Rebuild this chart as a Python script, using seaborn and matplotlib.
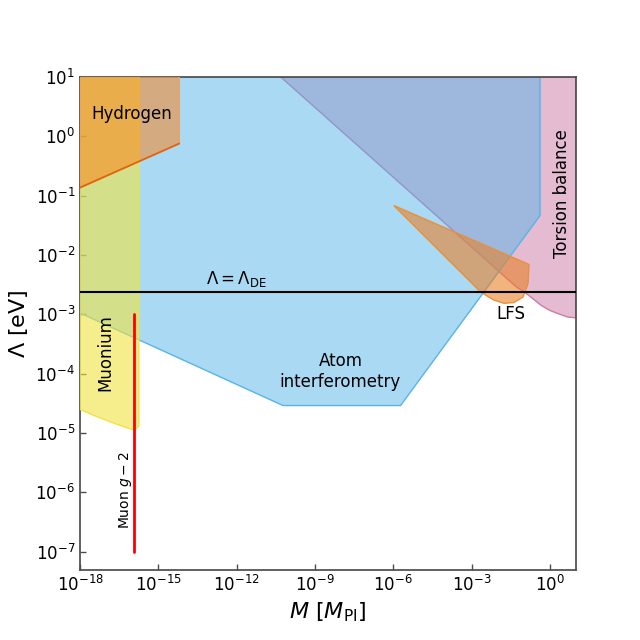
import numpy as np
import pandas as pd
import seaborn as sns
from matplotlib import pyplot as plt
from matplotlib.colors import to_rgb

# region boundaries, M in M_Pl and Lambda in eV
atom_M = [1e-18, 6e-11, 1.9e-6, 0.42, 0.42, 1e-18]
atom_L = [1.05e-3, 2.9e-5, 2.9e-5, 0.046, 10, 10]

torsion_M = [4.8e-11, 3.9e-4, 0.05, 0.104, 0.219, 0.457, 0.955, 2.0, 4.8, 10, 10]
torsion_L = [10, 0.0197, 2.92e-3, 2.37e-3, 1.84e-3, 1.42e-3, 1.17e-3, 1.03e-3, 9.0e-4, 8.7e-4, 10]

muonium_M = [1e-18, 3.2e-18, 1.4e-17, 9.5e-17, 1.4e-16, 1.8e-16, 1.8e-16, 1e-18]
muonium_L = [2.5e-5, 2.0e-5, 1.55e-5, 1.15e-5, 1.17e-5, 1.32e-5, 10, 10]

hydrogen_M = [1e-18, 6.3e-15, 6.3e-15, 1e-18]
hydrogen_L = [0.136, 0.75, 10, 10]

lfs_M = [1.05e-6, 0.158, 0.145, 0.093, 0.042, 0.0174, 7.1e-3, 2.3e-3]
lfs_L = [0.0679, 6.9e-3, 3.3e-3, 1.95e-3, 1.58e-3, 1.53e-3, 1.74e-3, 2.34e-3]

g2_M = [1.17e-16, 1.17e-16]
g2_L = [1e-7, 1e-3]

lambda_DE = 2.4e-3

xticks = [1e-18, 1e-15, 1e-12, 1e-9, 1e-6, 1e-3, 1e0]
yticks = [1e-7, 1e-6, 1e-5, 1e-4, 1e-3, 1e-2, 1e-1, 1e0, 1e1]

sns.set_theme(style="ticks", rc={
    "xtick.direction": "in", "ytick.direction": "in",
    "xtick.major.size": 4, "ytick.major.size": 4,
    "axes.edgecolor": "0.3", "axes.linewidth": 1.25,
    "text.color": "black", "axes.labelcolor": "black",
})
plt.rcParams['font.family'] = ['DejaVu Sans']

fig, ax = plt.subplots(figsize=(6.4, 6.4), dpi=100)
fig.subplots_adjust(left=0.125, right=0.9, bottom=0.11, top=0.88)
ax.set_xscale('log')
ax.set_yscale('log')

def region(M, L, color, alpha, z, ec=None):
    # translucent face, opaque edge
    ax.fill(M, L, facecolor=(*to_rgb(color), alpha), edgecolor=ec or color, lw=1.0, zorder=z)

region(torsion_M, torsion_L, "#CC79A7", 0.5, 1)
region(atom_M, atom_L, "#56B4E9", 0.5, 2)
region(muonium_M, muonium_L, "#F0E442", 0.6, 3)
region(hydrogen_M, hydrogen_L, "#FF7F0E", 0.5, 4, ec="#F5A05A")
region(lfs_M, lfs_L, "#E8822A", 0.6, 5, ec="#E8903A")

# hydrogen lower boundary
hyd = pd.DataFrame({"M": hydrogen_M[:2], "L": hydrogen_L[:2]})
sns.lineplot(data=hyd, x="M", y="L", color="#E2630C", lw=1.3, ax=ax, zorder=6,
             estimator=None, sort=False)

g2 = pd.DataFrame({"M": g2_M, "L": g2_L})
sns.lineplot(data=g2, x="M", y="L", color="red", lw=2, ax=ax, zorder=7,
             estimator=None, sort=False)

ax.axhline(lambda_DE, color="black", lw=1.5, zorder=8)

ax.text(1e-16, 2.4, "Hydrogen", fontsize=12, ha="center", va="center", zorder=9)
ax.text(9.1e-18, 2.3e-4, "Muonium", fontsize=12, rotation=90, ha="center", va="center", zorder=9)
ax.text(5.4e-17, 1.1e-6, r"Muon $g-2$", fontsize=10, rotation=90, ha="center", va="center", zorder=9)
ax.text(9.5e-9, 1.07e-4, "Atom\ninterferometry", fontsize=12, ha="center", va="center", zorder=9)
ax.text(2.9, 0.107, "Torsion balance", fontsize=12, rotation=90, ha="center", va="center", zorder=9)
ax.text(0.032, 1.0e-3, "LFS", fontsize=12, ha="center", va="center", zorder=9)
ax.text(1e-12, 2.65e-3, r"$\Lambda = \Lambda_{\rm DE}$", fontsize=12, ha="center", va="bottom", zorder=9)

ax.set_xlim(1e-18, 10)
ax.set_ylim(5e-8, 10)
ax.set_xticks(xticks)
ax.set_yticks(yticks)
ax.minorticks_off()
ax.tick_params(labelsize=12, colors="0.3", labelcolor="black", width=1)
ax.set_xlabel(r"$M$ [$M_{\rm Pl}$]", fontsize=16)
ax.set_ylabel(r"$\Lambda$ [eV]", fontsize=16)

fig.savefig("out.png", dpi=100)
